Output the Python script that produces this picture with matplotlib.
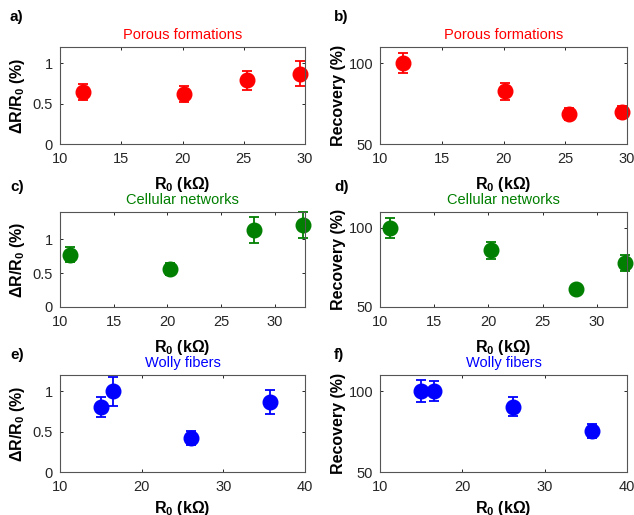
import numpy as np
import matplotlib
matplotlib.use("Agg")
import matplotlib.pyplot as plt

plt.rcParams['font.family'] = ['Liberation Sans', 'DejaVu Sans']
plt.rcParams['mathtext.fontset'] = 'custom'
plt.rcParams['mathtext.rm'] = 'Liberation Sans'
plt.rcParams['mathtext.bf'] = 'Liberation Sans:bold'
plt.rcParams['mathtext.it'] = 'Liberation Sans:italic'

# ---- data ----
# Porous formations
por_r0 = [11.9, 20.1, 25.3, 29.6]
por_dr = [0.645, 0.62, 0.79, 0.87]
por_dr_err = [0.097, 0.10, 0.117, 0.152]
por_rec = [100.0, 82.7, 68.5, 70.0]
por_rec_err = [6.2, 5.3, 3.6, 3.8]

# Cellular networks
cel_r0 = [10.9, 20.2, 28.1, 32.6]
cel_dr = [0.77, 0.56, 1.13, 1.21]
cel_dr_err = [0.11, 0.085, 0.19, 0.195]
cel_rec = [100.0, 85.7, 61.3, 77.7]
cel_rec_err = [6.2, 5.2, 2.0, 5.0]

# Wolly fibers
wol_r0 = [15.0, 16.5, 26.1, 35.7]
wol_dr = [0.80, 1.0, 0.425, 0.865]
wol_dr_err = [0.123, 0.18, 0.085, 0.15]
wol_rec = [100.0, 100.0, 90.5, 75.4]
wol_rec_err = [6.7, 6.3, 5.6, 4.2]

titles = ["Porous formations", "Cellular networks", "Wolly fibers"]
colors = ["#ff0000", "#007f00", "#0000ff"]
panel_labels = ["a)", "b)", "c)", "d)", "e)", "f)"]

rows = [
    (por_r0, por_dr, por_dr_err, por_rec, por_rec_err),
    (cel_r0, cel_dr, cel_dr_err, cel_rec, cel_rec_err),
    (wol_r0, wol_dr, wol_dr_err, wol_rec, wol_rec_err),
]
xlims = [(10, 30), (10, 32.8), (10, 40)]
xticks = [[10, 15, 20, 25, 30], [10, 15, 20, 25, 30], [10, 20, 30, 40]]
drlims = [(0, 1.2), (0, 1.4), (0, 1.2)]

W, H = 634, 515
fig = plt.figure(figsize=(W / 100, H / 100), dpi=100)

# axes boxes in pixels: (top, bottom)
row_px = [(47, 144), (212, 307), (375, 472)]
col_px = [(60, 305), (380, 627)]

gray = "#262626"

def make_ax(col, row):
    l, r = col_px[col]
    t, b = row_px[row]
    ax = fig.add_axes([l / W, 1 - b / H, (r - l) / W, (b - t) / H])
    ax.tick_params(direction="in", top=True, right=True, length=2.5,
                   labelsize=10.5, colors=gray, width=0.7)
    ax.tick_params(axis="x", pad=6)
    ax.tick_params(axis="y", pad=5)
    for s in ax.spines.values():
        s.set_color("#555555")
        s.set_linewidth(0.8)
    return ax

for i, (r0, dr, dre, rec, rece) in enumerate(rows):
    c = colors[i]
    for j in range(2):
        ax = make_ax(j, i)
        if j == 0:
            ax.errorbar(r0, dr, yerr=dre, fmt="o", color=c, ms=10.5,
                        capsize=3.6, elinewidth=1.3, capthick=1.3,
                        clip_on=False)
            ax.set_ylim(*drlims[i])
            ax.set_yticks([0, 0.5, 1])
            ax.set_yticklabels(["0", "0.5", "1"])
            ax.set_ylabel(r"ΔR/R$_\mathbf{0}$ (%)", fontsize=11.5,
                          fontweight="bold", color="black", labelpad=4)
        else:
            ax.errorbar(r0, rec, yerr=rece, fmt="o", color=c, ms=10.5,
                        capsize=3.6, elinewidth=1.3, capthick=1.3,
                        clip_on=False)
            ax.set_ylim(50, 110)
            ax.set_yticks([50, 100])
            ax.set_ylabel("Recovery (%)", fontsize=11.5,
                          fontweight="bold", color="black", labelpad=2)
        ax.set_xlim(*xlims[i])
        ax.set_xticks(xticks[i])
        ax.set_xlabel(r"R$_\mathbf{0}$ (kΩ)", fontsize=11.5,
                      fontweight="bold", color="black",
                      labelpad=6 if i < 2 else 3)
        ax.set_title(titles[i], color=c, fontsize=10.5, pad=6)
        lx = 10 if j == 0 else 334
        ly = [17, 187, 355][i]
        fig.text(lx / W, 1 - ly / H, panel_labels[2 * i + j], fontsize=11,
                 fontweight="bold", va="center", ha="left")

fig.savefig("out.png", dpi=100)
